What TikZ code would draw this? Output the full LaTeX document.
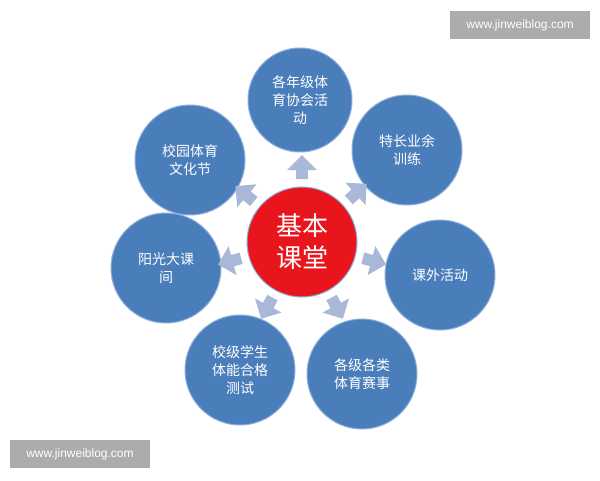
\documentclass[tikz,border=0pt]{standalone}
\usepackage{fontspec}
\newfontfamily\cjk{Noto Sans CJK SC}
\setsansfont{Liberation Sans}
\usetikzlibrary{shapes.arrows,calc}
\definecolor{cblue}{HTML}{4A7EBB}
\definecolor{cedge}{HTML}{8FAEDB}
\definecolor{cred}{HTML}{E8161C}
\definecolor{carrow}{HTML}{A9B8D6}
\begin{document}
\begin{tikzpicture}[x=1pt,y=1pt,
  outer/.style={circle,fill=cblue,draw=cedge,line width=1pt,minimum size=110pt,inner sep=0pt,text=white,font=\cjk\fontsize{14}{18}\selectfont,align=center},
  blk/.style={single arrow,fill=carrow,draw=none,minimum height=24pt,minimum width=30pt,single arrow head extend=5pt,inner sep=3pt,rotate=#1},
  wm/.style={fill=gray!65,text=white,font=\sffamily\fontsize{12}{14}\selectfont,inner sep=0pt}]
\useasboundingbox (0,0) rectangle (600,480);
\fill[white] (0,0) rectangle (600,480);
\node[circle,fill=cred,draw=cedge,line width=1pt,minimum size=110pt,text=white,align=center,font=\cjk\fontsize{26}{32}\selectfont] (c) at (302,238) {基本\\课堂};
\node[outer,minimum size=104pt] (o1) at (300,380) {各年级体\\育协会活\\动};
\node[outer] (o2) at (407,330) {特长业余\\训练};
\node[outer] (o3) at (440,205) {课外活动};
\node[outer] (o4) at (362,106) {各级各类\\体育赛事};
\node[outer] (o5) at (240,110) {校级学生\\体能合格\\测试};
\node[outer] (o6) at (166,212) {阳光大课\\间};
\node[outer] (o7) at (190,320) {校园体育\\文化节};
\foreach \a/\n in {90/a1,42/a2,-15/a3,-62/a4,-118/a5,195/a6,140/a7}
  \node[blk=\a] (\n) at ($(c)+(\a:72)$) {};
\node[wm,minimum width=140pt,minimum height=28pt] (w1) at (520,455) {www.jinweiblog.com};
\node[wm,minimum width=140pt,minimum height=28pt] (w2) at (80,26) {www.jinweiblog.com};
\end{tikzpicture}
\end{document}
